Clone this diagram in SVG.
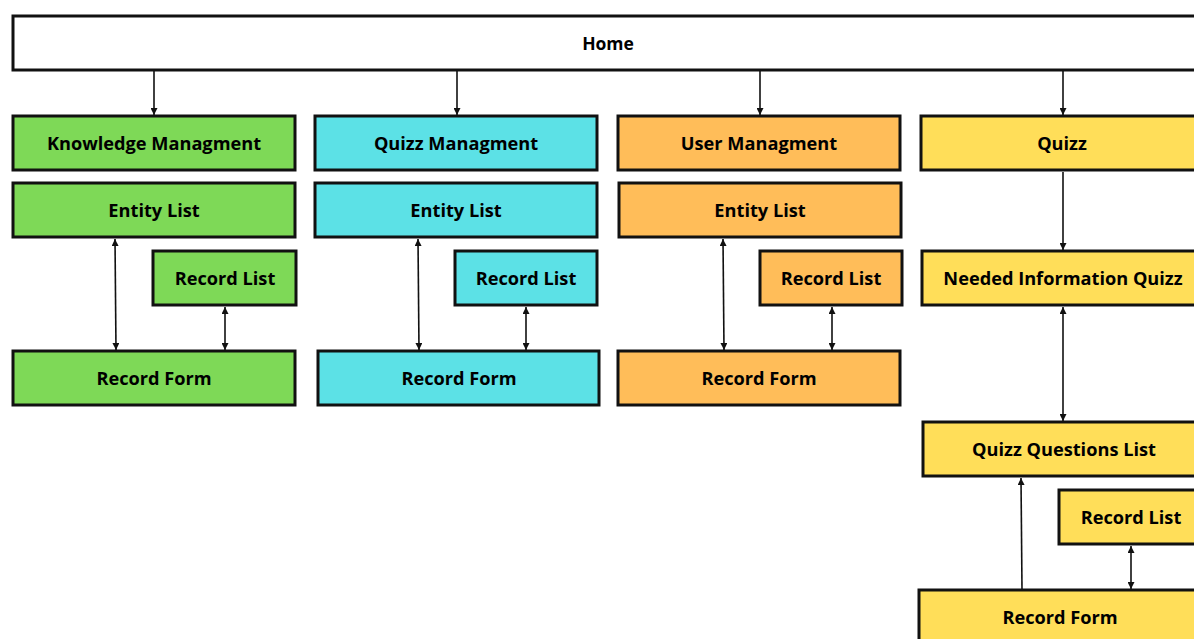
<svg xmlns="http://www.w3.org/2000/svg" width="1194" height="639" viewBox="0 0 1194 639">
<style>
.box{stroke:#111;stroke-width:3}
.g{fill:#7ed957}.c{fill:#5ce1e6}.o{fill:#ffbd59}.y{fill:#ffde59}.w{fill:#fff}
text{font-family:"Open Sans","Noto Sans","Liberation Sans",sans-serif;font-weight:bold;font-size:18.2px;fill:#000;text-anchor:middle;dominant-baseline:central}
.home{font-size:17.5px}
.ln{stroke:#111;stroke-width:1.6;fill:none}
</style>
<defs>
<marker id="ah" viewBox="0 0 10 10" refX="10" refY="5" markerWidth="7" markerHeight="7" markerUnits="userSpaceOnUse" orient="auto-start-reverse">
<path d="M0,0 L10,5 L0,10 z" fill="#111"/>
</marker>
</defs>
<g id="home"><rect class="box w" x="13" y="16" width="1195" height="54"/><text class="home" x="608" y="43">Home</text></g>

<g id="km"><rect class="box g" x="13" y="116" width="282" height="54"/><text x="154" y="143">Knowledge Managment</text></g>
<g id="km-entity"><rect class="box g" x="13" y="183" width="282" height="54"/><text x="154" y="210">Entity List</text></g>
<g id="km-record-list"><rect class="box g" x="153" y="251" width="143" height="54"/><text x="225" y="278">Record List</text></g>
<g id="km-record-form"><rect class="box g" x="13" y="351" width="282" height="54"/><text x="154" y="378">Record Form</text></g>

<g id="qm"><rect class="box c" x="315" y="116" width="282" height="54"/><text x="456" y="143">Quizz Managment</text></g>
<g id="qm-entity"><rect class="box c" x="315" y="183" width="282" height="54"/><text x="456" y="210">Entity List</text></g>
<g id="qm-record-list"><rect class="box c" x="455" y="251" width="142" height="54"/><text x="526" y="278">Record List</text></g>
<g id="qm-record-form"><rect class="box c" x="318" y="351" width="281" height="54"/><text x="459" y="378">Record Form</text></g>

<g id="um"><rect class="box o" x="618" y="116" width="282" height="54"/><text x="759" y="143">User Managment</text></g>
<g id="um-entity"><rect class="box o" x="619" y="183" width="282" height="54"/><text x="760" y="210">Entity List</text></g>
<g id="um-record-list"><rect class="box o" x="760" y="251" width="142" height="54"/><text x="831" y="278">Record List</text></g>
<g id="um-record-form"><rect class="box o" x="618" y="351" width="282" height="54"/><text x="759" y="378">Record Form</text></g>

<g id="quizz"><rect class="box y" x="921" y="116" width="290" height="54"/><text x="1062" y="143">Quizz</text></g>
<g id="needed-info"><rect class="box y" x="922" y="251" width="290" height="54"/><text x="1063" y="278">Needed Information Quizz</text></g>
<g id="questions-list"><rect class="box y" x="923" y="422" width="290" height="54"/><text x="1064" y="449">Quizz Questions List</text></g>
<g id="q-record-list"><rect class="box y" x="1059" y="490" width="150" height="54"/><text x="1131" y="517">Record List</text></g>
<g id="q-record-form"><rect class="box y" x="919" y="590" width="290" height="60"/><text x="1060" y="617">Record Form</text></g>

<g id="connectors">
<line class="ln" x1="154" y1="71" x2="154" y2="115" marker-end="url(#ah)"/>
<line class="ln" x1="457" y1="71" x2="457" y2="115" marker-end="url(#ah)"/>
<line class="ln" x1="760" y1="71" x2="760" y2="115" marker-end="url(#ah)"/>
<line class="ln" x1="1063" y1="71" x2="1063" y2="115" marker-end="url(#ah)"/>

<line class="ln" x1="115" y1="239" x2="116" y2="350" marker-start="url(#ah)" marker-end="url(#ah)"/>
<line class="ln" x1="225" y1="307" x2="225" y2="350" marker-start="url(#ah)" marker-end="url(#ah)"/>

<line class="ln" x1="418" y1="239" x2="419" y2="350" marker-start="url(#ah)" marker-end="url(#ah)"/>
<line class="ln" x1="526" y1="307" x2="526" y2="350" marker-start="url(#ah)" marker-end="url(#ah)"/>

<line class="ln" x1="723" y1="239" x2="724" y2="350" marker-start="url(#ah)" marker-end="url(#ah)"/>
<line class="ln" x1="832" y1="307" x2="832" y2="350" marker-start="url(#ah)" marker-end="url(#ah)"/>

<line class="ln" x1="1063" y1="172" x2="1063" y2="250" marker-end="url(#ah)"/>
<line class="ln" x1="1063" y1="307" x2="1063" y2="421" marker-start="url(#ah)" marker-end="url(#ah)"/>
<line class="ln" x1="1022" y1="589" x2="1021" y2="478" marker-end="url(#ah)"/>
<line class="ln" x1="1131" y1="546" x2="1131" y2="589" marker-start="url(#ah)" marker-end="url(#ah)"/>
</g>
</svg>
